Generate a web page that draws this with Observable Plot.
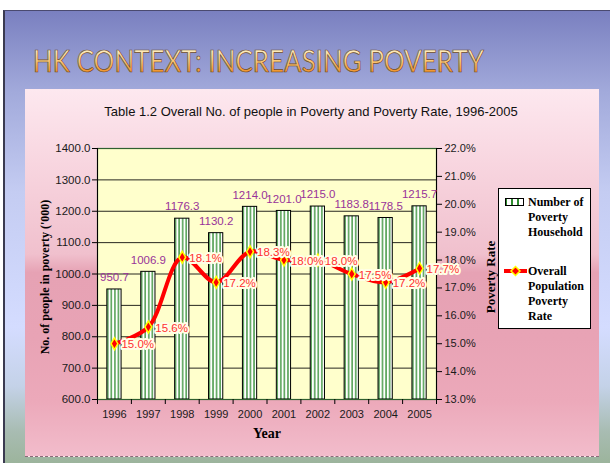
<!DOCTYPE html>
<html>
<head>
<meta charset="utf-8">
<script src="https://cdn.jsdelivr.net/npm/d3@7"></script>
<script src="https://cdn.jsdelivr.net/npm/@observablehq/plot@0.6"></script>
<style>
  html, body { margin: 0; padding: 0; background: #fff; }
  #stage { position: relative; width: 610px; height: 463px; overflow: hidden; background: #fff; }
  #slide { position: absolute; left: 3px; top: 10px; width: 607px; height: 453px;
    border-left: 2px solid #3a3a50; border-top: 1px solid #4a4a70; box-sizing: border-box;
    background: linear-gradient(to bottom, #7a80c0 0%, #a2aadb 18%, #c4ccf2 40%, #d4dcff 70%, #c4d2e8 83%, #a8bcb2 93%, #9cb49c 100%); }
  #panel { position: absolute; left: 25px; top: 89px; width: 574px; height: 368px;
    border-bottom: 1px dashed #8a6a78; box-sizing: border-box;
    background: linear-gradient(to bottom, #fde8ef 0%, #f8d6e0 20%, #f0c0cd 45%, #e6a2b4 50%, #e8a3b5 68%, #eca9ba 85%, #f2bccb 100%); }
  #ttl { position: absolute; left: 0; top: 0; }
  #ctitle { position: absolute; left: 25px; width: 572px; top: 104px; text-align: center;
    font: 13px "Liberation Sans", Arial, sans-serif; color: #111; line-height: 15px; white-space: nowrap; }
  #chart { position: absolute; left: 0; top: 0; }
  #legend { position: absolute; left: 498px; top: 188px; width: 93px; height: 141px; background: #fff;
    border: 1px solid #000; box-sizing: border-box; font: bold 12px "Liberation Serif", "Times New Roman", serif; color: #000; }
  #legend .lbl { position: absolute; left: 29px; line-height: 15px; }
  #legend svg { position: absolute; }
</style>
</head>
<body>
<div id="stage">
  <div id="slide"></div>
  <div id="panel"></div>
  <svg id="ttl" width="610" height="89">
    <defs>
      <linearGradient id="tg" gradientUnits="userSpaceOnUse" x1="0" y1="49" x2="0" y2="73">
        <stop offset="0" stop-color="#fff2c8"/>
        <stop offset="0.5" stop-color="#fbc878"/>
        <stop offset="1" stop-color="#ee8c22"/>
      </linearGradient>
    </defs>
    <text x="33" y="72" textLength="451" lengthAdjust="spacingAndGlyphs" font-family="Lato, 'Open Sans', sans-serif"
      font-size="31" fill="url(#tg)" stroke="#6a4a2e" stroke-width="0.7">HK CONTEXT: INCREASING POVERTY</text>
  </svg>
  <div id="ctitle">Table 1.2 Overall No. of people in Poverty and Poverty Rate, 1996-2005</div>
  <div id="chart"></div>
  <div id="legend">
    <svg style="left:6px; top:9px" width="20" height="9">
      <defs>
        <pattern id="lstripes" patternUnits="userSpaceOnUse" width="6" height="9">
          <rect width="6" height="9" fill="#fff"/>
          <rect x="0" width="2" height="9" fill="#2e8b2e"/>
        </pattern>
      </defs>
      <rect x="0.5" y="0.5" width="18" height="7" fill="url(#lstripes)" stroke="#000"/>
    </svg>
    <div class="lbl" style="top:6px">Number of<br>Poverty<br>Household</div>
    <svg style="left:5px; top:76px" width="24" height="12">
      <line x1="0" x2="23" y1="6" y2="6" stroke="#ff0000" stroke-width="4"/>
      <path d="M11.5,1.5 L16,6 L11.5,10.5 L7,6 Z" fill="#ff0000" stroke="#ffff00" stroke-width="1.5"/>
    </svg>
    <div class="lbl" style="top:75px">Overall<br>Population<br>Poverty<br>Rate</div>
  </div>
</div>
<script>
// ---- data ----
const years = [1996, 1997, 1998, 1999, 2000, 2001, 2002, 2003, 2004, 2005];
const households = [950.7, 1006.9, 1176.3, 1130.2, 1214.0, 1201.0, 1215.0, 1183.8, 1178.5, 1215.7];
const rates = [15.0, 15.6, 18.1, 17.2, 18.3, 18.0, 18.0, 17.5, 17.2, 17.7];
const leftTicks = [600, 700, 800, 900, 1000, 1100, 1200, 1300, 1400];
const rightTicks = [13, 14, 15, 16, 17, 18, 19, 20, 21, 22];
const yTitle = "No. of people in poverty ('000)";
const y2Title = "Poverty Rate";
const xTitle = "Year";

const data = years.map((year, i) => ({year, count: households[i], rate: rates[i]}));

// map secondary (percent) axis onto the primary scale
const lMin = leftTicks[0], lMax = leftTicks[leftTicks.length - 1];
const rMin = rightTicks[0], rMax = rightTicks[rightTicks.length - 1];
const toLeft = r => lMin + (r - rMin) * (lMax - lMin) / (rMax - rMin);
const fromLeft = v => rMin + (v - lMin) * (rMax - rMin) / (lMax - lMin);

const x0 = years[0] - 0.5, x1 = years[years.length - 1] + 0.5;
const boundaries = years.map(y => y - 0.5).concat([x1]);
const half = 0.21;
const serif = "'Liberation Serif', 'Times New Roman', serif";

const chart = Plot.plot({
  width: 610,
  height: 463,
  marginLeft: 97,
  marginRight: 174,
  marginTop: 148,
  marginBottom: 64,
  style: {background: "transparent", fontFamily: "'Liberation Sans', Arial, sans-serif", fontSize: "11px", color: "#1a1a1a", overflow: "visible"},
  x: {type: "linear", domain: [x0, x1], label: null},
  y: {domain: [lMin, lMax], label: null},
  marks: [
    Plot.frame({fill: "#ffffcc"}),
    Plot.gridY(leftTicks, {stroke: "#000", strokeOpacity: 0.85}),
    Plot.rectY(data, {x1: d => d.year - half, x2: d => d.year + half, y1: lMin, y2: "count",
      fill: "url(#stripes)", stroke: "#000", strokeWidth: 1}),
    Plot.frame({stroke: "#2f5f2f", strokeWidth: 1.2}),
    Plot.ruleX([x0, x1], {stroke: "#000", strokeWidth: 1}),
    Plot.axisY(leftTicks, {label: null, tickFormat: d => d.toFixed(1), tickSize: 5, tickPadding: 2, fontSize: 11.5, stroke: "#000"}),
    Plot.axisY(rightTicks.map(toLeft), {label: null, anchor: "right", tickFormat: v => fromLeft(v).toFixed(1) + "%", tickSize: 5, tickPadding: 3, fontSize: 11, stroke: "#000"}),
    Plot.axisX(boundaries, {label: null, tickFormat: () => "", tickSize: 5, stroke: "#000"}),
    Plot.axisX(years, {label: null, tickFormat: d => String(d), tickSize: 0, tickPadding: 11, fontSize: 11}),
    Plot.text(data, {x: "year", y: "count", text: d => d.count.toFixed(1), dy: -12, fill: "#993399", fontSize: 11.5}),
    Plot.line(data, {x: "year", y: d => toLeft(d.rate), stroke: "#ff0000", strokeWidth: 4, curve: "catmull-rom"}),
    Plot.dot(data, {x: "year", y: d => toLeft(d.rate), symbol: "diamond", r: 3.6, fill: "#ff0000", stroke: "#ffff00", strokeWidth: 1.5}),
    Plot.text(data, {x: "year", y: d => toLeft(d.rate), text: d => d.rate.toFixed(1) + "%", textAnchor: "start", dx: 7, dy: 1,
      fill: "#ff3030", stroke: "#ffffe6", strokeWidth: 4, fontSize: 11.5}),
    Plot.text([yTitle], {frameAnchor: "left", dx: -52, dy: 3, rotate: -90, textAnchor: "middle", fontFamily: serif, fontWeight: "bold", fontSize: 12, fill: "#000"}),
    Plot.text([y2Title], {frameAnchor: "right", dx: 54, dy: 3, rotate: -90, textAnchor: "middle", fontFamily: serif, fontWeight: "bold", fontSize: 13, fill: "#000"}),
    Plot.text([xTitle], {frameAnchor: "bottom", dy: 38, textAnchor: "middle", fontFamily: serif, fontWeight: "bold", fontSize: 14, fill: "#000"})
  ]
});

const ns = "http://www.w3.org/2000/svg";
const defs = document.createElementNS(ns, "defs");
defs.innerHTML = '<pattern id="stripes" patternUnits="objectBoundingBox" patternContentUnits="objectBoundingBox" width="0.25" height="1">' +
  '<rect width="0.25" height="1" fill="#ffffff"/>' +
  '<rect x="0.02" width="0.09" height="1" fill="#2e8b2e"/></pattern>';
chart.prepend(defs);
document.getElementById("chart").appendChild(chart);
</script>
</body>
</html>
